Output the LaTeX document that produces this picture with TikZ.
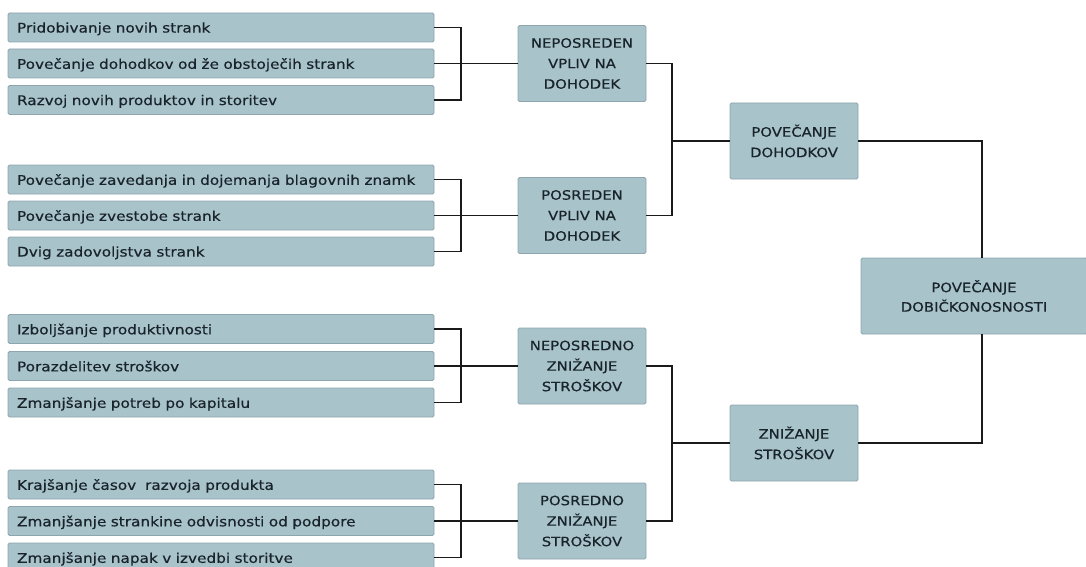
\documentclass[tikz,border=0pt]{standalone}
\usepackage{fontspec}
\setmainfont[FakeStretch=1.15, FakeBold=0.4]{DejaVu Sans}
\definecolor{boxfill}{HTML}{A9C3CB}
\definecolor{boxedge}{HTML}{8DA6AE}
\definecolor{boxtext}{HTML}{18232A}
\definecolor{wire}{HTML}{1A1A1A}
\tikzset{
  basebox/.style={rectangle, fill=boxfill, draw=boxedge, line width=0.8pt,
    rounded corners=1.5pt, text=boxtext, inner ysep=0pt,
    font=\fontsize{12.9}{20.5}\selectfont},
  leaf/.style={basebox, minimum height=29pt, text width=408pt, inner xsep=9pt,
    align=left, text depth=0pt, font=\fontsize{13.3}{16}\selectfont},
  group/.style={basebox, minimum width=128pt, minimum height=76pt, inner xsep=0pt,
    align=center},
  goal/.style={basebox, minimum width=226pt, minimum height=76pt, align=center,
    font=\fontsize{12.9}{19.5}\selectfont},
  wire/.style={draw=wire, line width=1.9pt}
}
\begin{document}
\begin{tikzpicture}[x=1pt, y=-1pt]
\useasboundingbox (0,0) rectangle (1086,567);

% leaves: revenue side
\node[leaf] (a1) at (221,27.5) {Pridobivanje novih strank};
\node[leaf] (a2) at (221,63.5) {Povečanje dohodkov od že obstoječih strank};
\node[leaf] (a3) at (221,100)  {Razvoj novih produktov in storitev};
\node[leaf] (b1) at (221,179.5) {Povečanje zavedanja in dojemanja blagovnih znamk};
\node[leaf] (b2) at (221,215.5) {Povečanje zvestobe strank};
\node[leaf] (b3) at (221,251.5) {Dvig zadovoljstva strank};
% leaves: cost side
\node[leaf] (c1) at (221,329)   {Izboljšanje produktivnosti};
\node[leaf] (c2) at (221,366)   {Porazdelitev stroškov};
\node[leaf] (c3) at (221,402.5) {Zmanjšanje potreb po kapitalu};
\node[leaf] (d1) at (221,484.5) {Krajšanje časov\ \ razvoja produkta};
\node[leaf] (d2) at (221,521)   {Zmanjšanje strankine odvisnosti od podpore};
\node[leaf] (d3) at (221,557.5) {Zmanjšanje napak v izvedbi storitve};

% second level
\node[group] (m1) at (582,63.5)  {NEPOSREDEN\\VPLIV NA\\DOHODEK};
\node[group] (m2) at (582,215.5) {POSREDEN\\VPLIV NA\\DOHODEK};
\node[group] (m3) at (582,366)   {NEPOSREDNO\\ZNIŽANJE\\STROŠKOV};
\node[group] (m4) at (582,521)   {POSREDNO\\ZNIŽANJE\\STROŠKOV};

% third level
\node[group] (r1) at (794,141) {POVEČANJE\\DOHODKOV};
\node[group] (r2) at (794,443) {ZNIŽANJE\\STROŠKOV};

% top goal
\node[goal] (g) at (974,296) {POVEČANJE\\DOBIČKONOSNOSTI};

% brackets from leaves to second level
\draw[wire] (a1.east) -- ++(27,0) |- (a3.east);
\draw[wire] (a2.east) -- (m1.west);
\draw[wire] (b1.east) -- ++(27,0) |- (b3.east);
\draw[wire] (b2.east) -- (m2.west);
\draw[wire] (c1.east) -- ++(27,0) |- (c3.east);
\draw[wire] (c2.east) -- (m3.west);
\draw[wire] (d1.east) -- ++(27,0) |- (d3.east);
\draw[wire] (d2.east) -- (m4.west);

% brackets from second to third level
\coordinate (j1) at (672,141);
\coordinate (j2) at (672,443);
\draw[wire] (m1.east) -| (j1) |- (m2.east);
\draw[wire] (j1) -- (r1.west);
\draw[wire] (m3.east) -| (j2) |- (m4.east);
\draw[wire] (j2) -- (r2.west);

% third level to goal
\draw[wire] (r1.east) -| ([xshift=8pt]g.north);
\draw[wire] ([xshift=8pt]g.south) |- (r2.east);
\end{tikzpicture}
\end{document}
